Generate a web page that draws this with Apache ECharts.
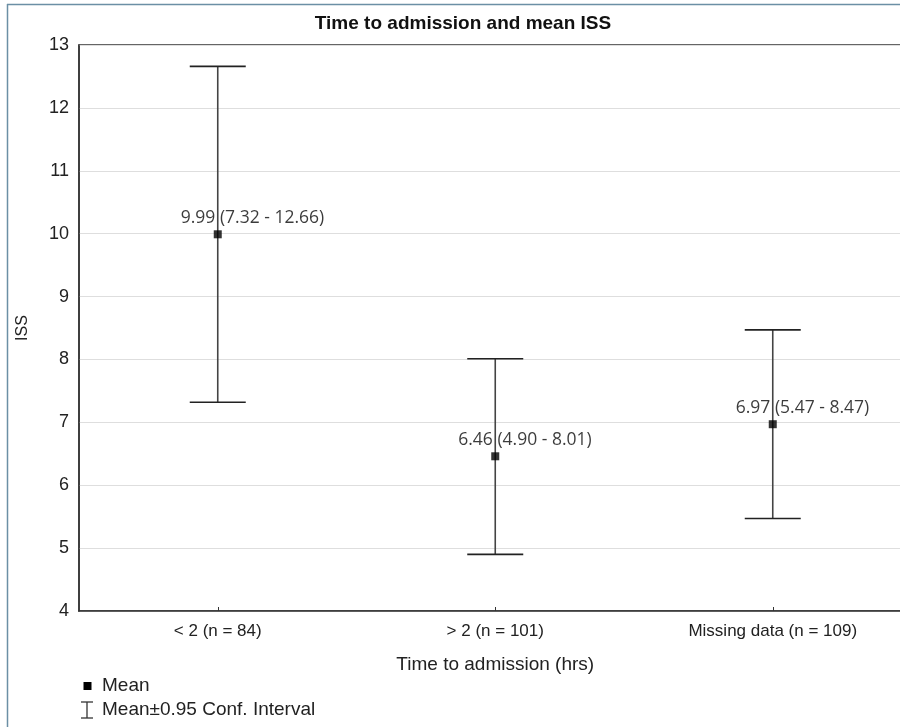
<!DOCTYPE html>
<html>
<head>
<meta charset="utf-8">
<script src="https://cdn.jsdelivr.net/npm/echarts@6/dist/echarts.min.js"></script>
<style>
html,body{margin:0;padding:0;background:#fff;}
#c{width:900px;height:727px;}
</style>
</head>
<body>
<div id="c"></div>
<script>
var categories = ['< 2 (n = 84)', '> 2 (n = 101)', 'Missing data (n = 109)'];
var means = [9.99, 6.46, 6.97];
var ciLow = [7.32, 4.90, 5.47];
var ciHigh = [12.66, 8.01, 8.47];
var yTicks = {min: 4, max: 13, interval: 1};

var chart = echarts.init(document.getElementById('c'));
var FONT = '"Liberation Sans", Arial, sans-serif';

var option = {
  animation: false,
  backgroundColor: '#fff',
  title: {
    text: 'Time to admission and mean ISS',
    left: 458, top: 9, textAlign: 'center',
    textStyle: {fontFamily: FONT, fontWeight: 'bold', fontSize: 19, color: '#111'}
  },
  grid: {left: 79, top: 45, bottom: 116, width: 832.5, containLabel: false, outerBoundsMode: 'none',
         show: true, borderColor: '#333', borderWidth: 1.5},
  xAxis: {
    type: 'category', data: categories, boundaryGap: true,
    name: 'Time to admission (hrs)', nameLocation: 'middle', nameGap: 44,
    nameTextStyle: {fontFamily: FONT, fontSize: 19, color: '#222'},
    axisLine: {lineStyle: {color: '#333', width: 1.5}},
    axisTick: {show: true, inside: true, alignWithLabel: true, length: 4, lineStyle: {color: '#333'}},
    axisLabel: {fontFamily: FONT, fontSize: 17, color: '#222', margin: 12},
    splitLine: {show: false}
  },
  yAxis: {
    type: 'value', min: yTicks.min, max: yTicks.max, interval: yTicks.interval,
    name: 'ISS', nameLocation: 'middle', nameGap: 48, nameRotate: 90,
    nameTextStyle: {fontFamily: FONT, fontSize: 16, color: '#222'},
    axisLine: {show: true, lineStyle: {color: '#333', width: 1.5}},
    axisTick: {show: false},
    axisLabel: {fontFamily: FONT, fontSize: 18, color: '#222', margin: 10},
    splitLine: {show: true, lineStyle: {color: '#dedede', width: 1}}
  },
  series: [
    {
      type: 'custom',
      name: 'CI',
      data: categories.map(function (c, i) { return [i, ciLow[i], ciHigh[i]]; }),
      renderItem: function (params, api) {
        var i = api.value(0);
        var lo = api.coord([i, api.value(1)]);
        var hi = api.coord([i, api.value(2)]);
        var hw = 28;
        return {
          type: 'group',
          children: [
            {type: 'line', shape: {x1: lo[0], y1: lo[1], x2: hi[0], y2: hi[1]}, style: {stroke: '#444', lineWidth: 1.6}},
            {type: 'line', shape: {x1: hi[0] - hw, y1: hi[1], x2: hi[0] + hw, y2: hi[1]}, style: {stroke: '#222', lineWidth: 1.6}},
            {type: 'line', shape: {x1: lo[0] - hw, y1: lo[1], x2: lo[0] + hw, y2: lo[1]}, style: {stroke: '#222', lineWidth: 1.6}}
          ]
        };
      },
      z: 2
    },
    {
      type: 'scatter',
      name: 'Mean',
      data: categories.map(function (c, i) { return [i, means[i]]; }),
      symbol: 'rect', symbolSize: 8,
      itemStyle: {color: '#000'},
      label: {
        show: true,
        position: [-33, -12],
        align: 'left', verticalAlign: 'middle',
        fontFamily: '"Open Sans", sans-serif', fontSize: 17.5, color: '#0a0a0a',
        formatter: function (p) {
          var i = p.dataIndex;
          return means[i].toFixed(2) + ' (' + ciLow[i].toFixed(2) + ' - ' + ciHigh[i].toFixed(2) + ')';
        }
      },
      z: 3
    }
  ],
  graphic: [
    {type: 'line', shape: {x1: 7.5, y1: 4, x2: 7.5, y2: 727}, style: {stroke: '#6b8fa5', lineWidth: 1.5}, silent: true},
    {type: 'line', shape: {x1: 7, y1: 4.5, x2: 900, y2: 4.5}, style: {stroke: '#6b8fa5', lineWidth: 1.5}, silent: true},
    {type: 'rect', shape: {x: 83.5, y: 682, width: 8, height: 8}, style: {fill: '#000'}},
    {type: 'line', shape: {x1: 87, y1: 702, x2: 87, y2: 718}, style: {stroke: '#333', lineWidth: 1.3}},
    {type: 'line', shape: {x1: 81, y1: 702, x2: 93, y2: 702}, style: {stroke: '#333', lineWidth: 1.3}},
    {type: 'line', shape: {x1: 81, y1: 718, x2: 93, y2: 718}, style: {stroke: '#333', lineWidth: 1.3}},
    {type: 'text', left: 102, top: 676, style: {text: 'Mean', font: '19px "Liberation Sans", Arial, sans-serif', fill: '#222'}},
    {type: 'text', left: 102, top: 700, style: {text: 'Mean\u00b10.95 Conf. Interval', font: '19px "Liberation Sans", Arial, sans-serif', fill: '#222'}}
  ]
};
chart.setOption(option);
</script>
</body>
</html>
